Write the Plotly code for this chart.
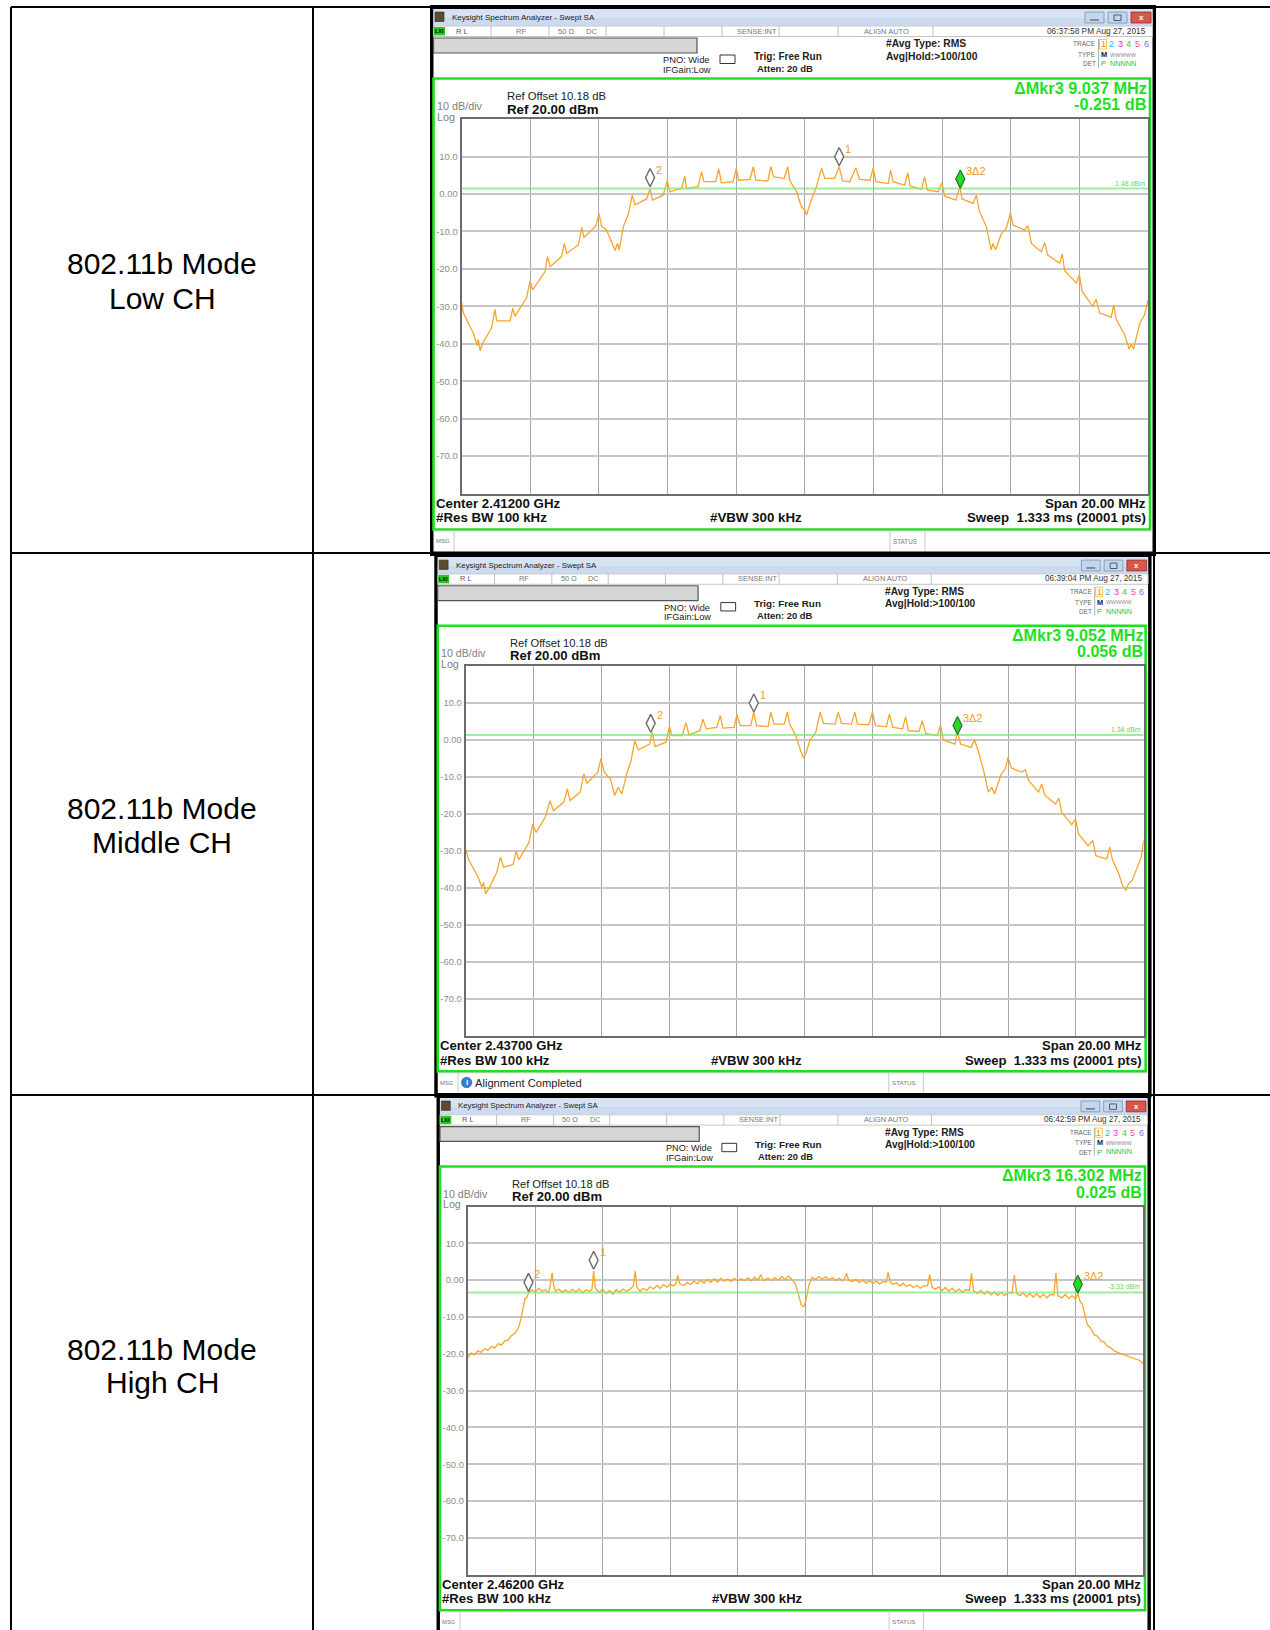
import plotly.graph_objects as go

W, H = 1270, 1630
FONT = "Liberation Sans, Arial, sans-serif"

# ---------------- data ----------------
row_titles = ["802.11b Mode", "802.11b Mode", "802.11b Mode"]
row_channels = ["Low CH", "Middle CH", "High CH"]
center_labels = ["Center 2.41200 GHz", "Center 2.43700 GHz", "Center 2.46200 GHz"]
delta_freq_labels = ["ΔMkr3 9.037 MHz", "ΔMkr3 9.052 MHz", "ΔMkr3 16.302 MHz"]
delta_level_labels = ["-0.251 dB", "0.056 dB", "0.025 dB"]
timestamps = ["06:37:58 PM Aug 27, 2015", "06:39:04 PM Aug 27, 2015", "06:42:59 PM Aug 27, 2015"]
msg_texts = ["", "Alignment Completed", ""]
display_line_dbm = [1.48, 1.34, -3.33]
display_line_labels = ["1.48 dBm", "1.34 dBm", "-3.33 dBm"]
y_tick_vals = [10, 0, -10, -20, -30, -40, -50, -60, -70]
y_tick_text = ["10.0", "0.00", "-10.0", "-20.0", "-30.0", "-40.0", "-50.0", "-60.0", "-70.0"]
x_grid_vals = [-8, -6, -4, -2, 0, 2, 4, 6, 8]
marker_names = ["1", "2", "3Δ2"]

# (frequency offset MHz, level dBm)
low_trace = [
    (-10.0, -29.0), (-9.95, -31.8), (-9.66, -37.2), (-9.55, -40.5), (-9.52, -38.8), (-9.46, -41.8),
    (-9.40, -40.0), (-9.27, -38.0), (-9.13, -35.8), (-9.03, -30.8), (-8.98, -33.9), (-8.59, -33.9),
    (-8.51, -30.5), (-8.45, -32.7), (-8.11, -27.8), (-8.01, -23.2), (-7.93, -25.6), (-7.57, -20.7),
    (-7.50, -16.7), (-7.42, -19.4), (-7.09, -16.7), (-7.01, -13.2), (-6.94, -15.8), (-6.60, -13.6),
    (-6.50, -8.9), (-6.44, -11.6), (-6.09, -8.5), (-6.00, -5.2), (-5.92, -8.7), (-5.78, -9.6),
    (-5.63, -13.2), (-5.53, -15.1), (-5.46, -13.2), (-5.41, -14.9), (-5.29, -8.7), (-5.15, -5.6),
    (-5.03, -0.3), (-4.95, -2.9), (-4.61, -1.3), (-4.51, 1.5), (-4.44, -1.6), (-4.13, -0.3),
    (-4.01, 3.6), (-3.93, 0.6), (-3.59, 1.5), (-3.50, 4.8), (-3.45, 1.5), (-3.11, 2.0),
    (-3.01, 6.0), (-2.94, 3.3), (-2.60, 3.3), (-2.51, 6.7), (-2.43, 3.0), (-2.09, 3.3),
    (-2.00, 6.8), (-1.93, 3.7), (-1.60, 3.9), (-1.50, 7.3), (-1.43, 3.7), (-1.08, 3.5),
    (-0.99, 7.3), (-0.91, 4.6), (-0.60, 4.2), (-0.50, 7.3), (-0.44, 3.7), (-0.24, 0.6),
    (-0.10, -3.4), (0.00, -4.3), (0.05, -5.6), (0.15, -2.5), (0.34, 2.0), (0.49, 7.0),
    (0.58, 4.2), (0.87, 4.2), (1.00, 7.3), (1.10, 3.5), (1.31, 3.3), (1.49, 7.0),
    (1.59, 3.9), (1.90, 3.7), (1.99, 7.0), (2.07, 3.3), (2.43, 2.8), (2.50, 6.4),
    (2.57, 3.3), (2.91, 2.4), (3.00, 5.7), (3.07, 2.1), (3.40, 1.3), (3.49, 4.6),
    (3.57, 1.1), (3.88, 0.6), (4.00, 3.1), (4.07, -0.5), (4.40, -1.6), (4.52, 2.0),
    (4.58, -1.3), (4.90, -2.5), (5.00, -0.3), (5.09, -4.7), (5.29, -8.7), (5.43, -14.9),
    (5.48, -13.2), (5.56, -14.9), (5.73, -10.5), (5.87, -9.2), (5.99, -5.0), (6.07, -8.3),
    (6.40, -9.6), (6.50, -8.5), (6.60, -13.2), (6.89, -15.4), (6.99, -13.0), (7.08, -16.3),
    (7.43, -18.5), (7.50, -16.0), (7.57, -20.4), (7.91, -23.8), (8.00, -21.6), (8.08, -26.0),
    (8.39, -30.0), (8.49, -28.1), (8.59, -31.8), (8.93, -32.9), (9.00, -29.6), (9.07, -33.4),
    (9.32, -37.6), (9.45, -41.4), (9.51, -40.2), (9.58, -41.4), (9.76, -34.5), (9.90, -32.3),
    (10.0, -28.3),
]

mid_trace = [
    (-10.0, -29.5), (-9.90, -32.6), (-9.63, -37.1), (-9.52, -39.8), (-9.47, -38.5), (-9.41, -41.6),
    (-9.29, -39.8), (-9.08, -35.8), (-8.97, -31.7), (-8.88, -34.4), (-8.60, -33.7), (-8.51, -30.1),
    (-8.43, -32.4), (-8.13, -27.7), (-8.02, -22.7), (-7.92, -25.0), (-7.65, -20.9), (-7.51, -16.4),
    (-7.41, -19.1), (-7.10, -16.8), (-7.00, -13.2), (-6.92, -16.4), (-6.62, -14.1), (-6.51, -9.2),
    (-6.42, -11.7), (-6.10, -8.7), (-6.01, -5.1), (-5.91, -8.7), (-5.73, -10.5), (-5.60, -15.0),
    (-5.50, -12.8), (-5.39, -14.6), (-5.25, -9.2), (-5.12, -5.6), (-5.01, -0.2), (-4.91, -2.7),
    (-4.57, -1.1), (-4.50, 2.1), (-4.41, -1.8), (-4.09, -0.6), (-3.99, 3.6), (-3.91, 1.2),
    (-3.61, 1.2), (-3.50, 4.7), (-3.41, 1.4), (-3.09, 2.5), (-3.00, 5.6), (-2.90, 3.0),
    (-2.59, 3.4), (-2.49, 6.6), (-2.41, 3.2), (-2.08, 3.4), (-2.00, 6.8), (-1.90, 3.9),
    (-1.59, 3.9), (-1.50, 7.5), (-1.42, 3.9), (-1.08, 3.6), (-1.00, 7.5), (-0.90, 4.3),
    (-0.60, 4.3), (-0.51, 7.5), (-0.44, 4.3), (-0.26, 1.2), (-0.12, -2.9), (-0.03, -4.9),
    (0.05, -3.3), (0.15, -0.2), (0.33, 2.1), (0.46, 7.5), (0.56, 4.5), (0.90, 4.3),
    (0.99, 7.5), (1.09, 4.5), (1.38, 4.3), (1.48, 7.5), (1.56, 4.3), (1.89, 4.1),
    (2.00, 7.5), (2.09, 3.9), (2.41, 3.6), (2.50, 7.0), (2.60, 3.4), (2.89, 3.0),
    (2.98, 6.3), (3.06, 2.5), (3.37, 2.3), (3.47, 5.2), (3.57, 1.8), (3.91, 1.2),
    (4.01, 3.9), (4.09, 0.0), (4.43, -1.1), (4.51, 2.1), (4.60, -1.1), (4.91, -2.0),
    (5.01, 0.0), (5.12, -2.9), (5.28, -8.3), (5.42, -14.1), (5.52, -12.8), (5.60, -14.6),
    (5.80, -9.2), (5.92, -7.8), (6.00, -4.7), (6.10, -7.6), (6.40, -8.7), (6.51, -8.1),
    (6.61, -11.0), (6.90, -14.1), (6.99, -11.9), (7.09, -15.0), (7.40, -17.3), (7.50, -15.7),
    (7.58, -19.5), (7.88, -22.9), (7.99, -21.4), (8.08, -25.4), (8.36, -28.6), (8.50, -27.2),
    (8.59, -31.3), (8.91, -32.2), (9.00, -29.0), (9.08, -32.4), (9.25, -35.8), (9.38, -39.4),
    (9.47, -40.7), (9.55, -38.9), (9.66, -38.0), (9.82, -34.0), (9.93, -31.7), (10.0, -27.2),
]

high_trace = [
    (-10.0, -21.0), (-9.9, -19.8), (-9.8, -20.3), (-9.7, -19.2), (-9.6, -19.6), (-9.5, -18.6),
    (-9.4, -19.0), (-9.3, -18.0), (-9.2, -18.4), (-9.1, -17.3), (-9.0, -17.6), (-8.9, -16.5),
    (-8.8, -16.2), (-8.7, -15.0), (-8.6, -14.4), (-8.5, -13.0), (-8.45, -11.5), (-8.4, -9.0),
    (-8.35, -6.5), (-8.3, -5.0), (-8.25, -4.8), (-8.2, -3.5), (-8.1, -2.6), (-8.0, -3.2),
    (-7.9, -2.2), (-7.8, -3.0), (-7.7, -2.6), (-7.6, -3.4), (-7.55, -1.0), (-7.5, 2.0),
    (-7.45, -1.5), (-7.4, -3.0), (-7.3, -2.4), (-7.2, -3.3), (-7.1, -2.6), (-7.0, -3.4),
    (-6.9, -2.5), (-6.8, -3.2), (-6.7, -2.4), (-6.6, -3.5), (-6.5, -2.6), (-6.4, -3.1),
    (-6.32, -2.5), (-6.27, 2.5), (-6.22, -2.2), (-6.1, -3.3), (-6.0, -2.5), (-5.9, -3.6),
    (-5.8, -2.8), (-5.7, -3.8), (-5.6, -2.6), (-5.5, -3.3), (-5.4, -2.4), (-5.3, -3.0),
    (-5.2, -2.5), (-5.09, -1.5), (-5.04, 2.5), (-4.99, -1.8), (-4.9, -3.0), (-4.8, -2.2),
    (-4.7, -2.8), (-4.6, -1.8), (-4.5, -2.4), (-4.4, -1.5), (-4.3, -2.2), (-4.2, -1.2),
    (-4.1, -1.9), (-4.0, -1.0), (-3.9, -1.6), (-3.83, -0.8), (-3.78, 1.3), (-3.72, -0.9),
    (-3.6, -1.5), (-3.5, -0.6), (-3.4, -1.2), (-3.3, -0.3), (-3.2, -1.0), (-3.1, 0.0),
    (-3.0, -0.8), (-2.9, 0.2), (-2.8, -0.6), (-2.7, 0.4), (-2.6, -0.5), (-2.5, 0.5),
    (-2.4, -0.3), (-2.3, 0.3), (-2.2, -0.4), (-2.1, 0.5), (-2.0, -0.2), (-1.9, 0.4),
    (-1.8, -0.1), (-1.7, 0.6), (-1.6, -0.2), (-1.5, 0.8), (-1.4, 0.0), (-1.32, 1.5),
    (-1.25, -0.2), (-1.1, 0.6), (-1.0, -0.1), (-0.9, 0.7), (-0.8, 0.0), (-0.7, 1.0),
    (-0.6, 0.2), (-0.5, 1.1), (-0.4, 0.2), (-0.3, -1.0), (-0.2, -4.0), (-0.12, -6.8),
    (-0.05, -7.2), (0.02, -5.5), (0.1, -1.5), (0.2, 0.8), (0.3, 0.2), (0.4, 1.0),
    (0.5, 0.3), (0.6, 0.9), (0.7, 0.1), (0.8, 0.7), (0.9, -0.1), (1.0, 0.5),
    (1.1, -0.2), (1.17, 0.5), (1.22, 1.9), (1.28, 0.0), (1.4, -0.4), (1.5, 0.2),
    (1.6, -0.6), (1.7, 0.0), (1.8, -0.8), (1.9, -0.1), (2.0, -0.9), (2.1, -0.3),
    (2.2, -1.0), (2.3, -0.4), (2.4, -0.5), (2.45, 2.1), (2.52, -0.6), (2.6, -1.2),
    (2.7, -0.7), (2.8, -1.6), (2.9, -0.9), (3.0, -1.8), (3.1, -1.2), (3.2, -2.0),
    (3.3, -1.4), (3.4, -2.2), (3.5, -1.6), (3.62, -1.5), (3.68, 1.6), (3.75, -1.9),
    (3.85, -2.5), (3.95, -1.8), (4.05, -2.8), (4.15, -2.0), (4.25, -3.0), (4.35, -2.2),
    (4.45, -3.2), (4.55, -2.4), (4.65, -3.3), (4.75, -2.6), (4.86, -2.8), (4.92, 1.9),
    (4.98, -2.9), (5.1, -3.6), (5.2, -2.8), (5.3, -3.8), (5.4, -3.0), (5.5, -4.0),
    (5.6, -3.2), (5.7, -4.1), (5.8, -3.3), (5.9, -4.2), (6.0, -3.4), (6.12, -3.5),
    (6.19, 1.4), (6.26, -3.6), (6.35, -4.2), (6.45, -3.4), (6.55, -4.5), (6.65, -3.6),
    (6.75, -4.6), (6.85, -3.7), (6.95, -4.7), (7.05, -3.8), (7.15, -4.8), (7.25, -3.9),
    (7.36, -4.0), (7.42, 1.9), (7.48, -4.2), (7.6, -4.8), (7.7, -3.9), (7.8, -5.0),
    (7.9, -4.2), (8.0, -5.2), (8.07, -3.7), (8.13, -5.6), (8.2, -6.5), (8.27, -9.5),
    (8.35, -12.0), (8.45, -13.0), (8.55, -14.8), (8.65, -15.2), (8.75, -16.5), (8.85, -16.8),
    (8.95, -18.0), (9.05, -18.4), (9.15, -19.2), (9.3, -19.8), (9.45, -20.3), (9.6, -20.9),
    (9.75, -21.3), (9.9, -21.8), (10.0, -22.6),
]

# markers 1, 2, 3 : (frequency offset MHz, diamond centre level dB)
low_markers = [(1.00, 10.0), (-4.51, 4.4), (4.53, 4.0)]
mid_markers = [(-1.50, 10.0), (-4.54, 4.5), (4.51, 3.9)]
high_markers = [(-6.27, 5.4), (-8.20, -0.6), (8.07, -1.1)]

traces_data = [low_trace, mid_trace, high_trace]
markers_data = [low_markers, mid_markers, high_markers]

# ---------------- geometry helpers ----------------
SS = [dict(ax=461.7, ay=119.2, s=1.0),
      dict(ax=465.6, ay=666.0, s=0.988),
      dict(ax=467.7, ay=1206.5, s=0.984)]


def T(i, x, y):
    d = SS[i]
    return d['ax'] + (x - 461.7) * d['s'], d['ay'] + (y - 119.2) * d['s']


shapes = []
annotations = []


def rect_px(x0, y0, x1, y1, fill=None, lc=None, lw=0):
    shapes.append(dict(type='rect', xref='paper', yref='paper', x0=x0 / W, x1=x1 / W,
                       y0=1 - y0 / H, y1=1 - y1 / H, layer='below',
                       fillcolor=fill if fill else 'rgba(0,0,0,0)',
                       line=dict(color=lc if lc else 'rgba(0,0,0,0)', width=lw)))


def circle_px(x0, y0, x1, y1, fill, lc=None, lw=0):
    shapes.append(dict(type='circle', xref='paper', yref='paper', x0=x0 / W, x1=x1 / W,
                       y0=1 - y0 / H, y1=1 - y1 / H, layer='below', fillcolor=fill,
                       line=dict(color=lc if lc else 'rgba(0,0,0,0)', width=lw)))


def line_px(x0, y0, x1, y1, color, width):
    shapes.append(dict(type='line', xref='paper', yref='paper', x0=x0 / W, x1=x1 / W,
                       y0=1 - y0 / H, y1=1 - y1 / H, layer='below',
                       line=dict(color=color, width=width)))


def text_px(x, y, t, size, color, xa='left', ya='middle', family=FONT):
    annotations.append(dict(xref='paper', yref='paper', x=x / W, y=1 - y / H, text=t,
                            showarrow=False, xanchor=xa, yanchor=ya, borderpad=0,
                            font=dict(size=size, color=color, family=family)))


# ---------------- table ----------------
for (x0, y0, x1, y1) in [(11, 7, 1270, 7), (11, 553, 1270, 553), (11, 1095, 1270, 1095),
                         (11, 7, 11, 1630), (313, 7, 313, 1630), (1154, 7, 1154, 1630)]:
    line_px(x0, y0, x1, y1, '#000000', 2)

row_text_y = [(264, 298), (808, 842), (1349, 1382)]
for k in range(3):
    text_px(162, row_text_y[k][0], row_titles[k], 30, '#000000', xa='center')
    text_px(162, row_text_y[k][1], row_channels[k], 30, '#000000', xa='center')

GREEN = '#1fe01f'
ORANGE = '#f7a52b'


def draw_screen(i):
    s = SS[i]['s']

    def R(x0, y0, x1, y1, fill=None, lc=None, lw=0):
        X0, Y0 = T(i, x0, y0)
        X1, Y1 = T(i, x1, y1)
        rect_px(X0, Y0, X1, Y1, fill, lc, lw * s)

    def C(x0, y0, x1, y1, fill, lc=None, lw=0):
        X0, Y0 = T(i, x0, y0)
        X1, Y1 = T(i, x1, y1)
        circle_px(X0, Y0, X1, Y1, fill, lc, lw * s)

    def L(x0, y0, x1, y1, color, width):
        X0, Y0 = T(i, x0, y0)
        X1, Y1 = T(i, x1, y1)
        line_px(X0, Y0, X1, Y1, color, width * s)

    def TX(x, y, t, size, color, xa='left', ya='middle'):
        X, Y = T(i, x, y)
        text_px(X, Y, t, size * s, color, xa, ya)

    # outer frame
    R(430, 5, 1156, 556, fill='#000000')
    R(433.5, 9, 1152.5, 551.5, fill='#ffffff')
    # title bar
    R(433.5, 9, 1152.5, 25.5, fill='#d6e3f3')
    R(433.5, 18, 1152.5, 25.5, fill='#cbdaee')
    R(435, 12, 444, 21.5, fill='#5d4b2c', lc='#2a2a2a', lw=0.6)
    TX(451, 17, "Keysight Spectrum Analyzer - Swept SA", 8, '#1b1b1b')
    R(1085, 12, 1104, 23, fill='#c3d6ee', lc='#7b90aa', lw=0.8)
    R(1108, 12, 1127, 23, fill='#c3d6ee', lc='#7b90aa', lw=0.8)
    R(1131, 12, 1151, 23, fill='#d8574b', lc='#8b2c2a', lw=0.8)
    L(1090, 20, 1099, 20, '#4a5a70', 1.2)
    R(1114, 15, 1121, 20.5, lc='#4a5a70', lw=1)
    TX(1141, 17.5, "<b>x</b>", 8, '#ffffff', xa='center')
    # status row
    R(433.5, 26, 1152.5, 36.5, fill='#ffffff', lc='#b8b8b8', lw=0.8)
    for sx in [491, 549, 606, 664, 722, 779, 838, 933]:
        L(sx, 26, sx, 36.5, '#b0b0b0', 0.8)
    R(434, 27, 445, 35.5, fill='#22cc22')
    TX(439.5, 31.2, "<b>LXI</b>", 5.5, '#000000', xa='center')
    TX(455, 31, "R L", 7.5, '#555555')
    TX(515, 31, "RF", 7.5, '#777777')
    TX(557, 31, "50 Ω", 7.5, '#777777')
    TX(585, 31, "DC", 7.5, '#777777')
    TX(736, 31, "SENSE:INT", 7.5, '#777777')
    TX(863, 31, "ALIGN AUTO", 7.5, '#777777')
    TX(1147, 31, timestamps[i], 8.3, '#333333', xa='right')
    # gray bar
    R(433.5, 38, 697, 53, fill='#d6d6d6', lc='#555555', lw=1.2)
    # settings text
    TX(662, 60, "PNO: Wide", 9.3, '#222222')
    TX(662, 70, "IFGain:Low", 9.3, '#222222')
    R(720, 55, 735, 63.5, fill='#ffffff', lc='#333333', lw=1)
    TX(753, 56, "<b>Trig: Free Run</b>", 10, '#222222')
    TX(756, 68.5, "<b>Atten: 20 dB</b>", 9.5, '#222222')
    TX(885, 44, "<b>#Avg Type: RMS</b>", 10.3, '#222222')
    TX(885, 56, "<b>Avg|Hold:&gt;100/100</b>", 10.3, '#222222')
    # trace box
    TX(1097, 44, "TRACE", 6.5, '#666666', xa='right')
    TX(1097, 54.5, "TYPE", 6.5, '#666666', xa='right')
    TX(1097, 64, "DET", 6.5, '#666666', xa='right')
    L(1098.5, 39, 1098.5, 68, '#999999', 0.8)
    R(1099.5, 39.5, 1106.5, 49, lc='#f5c000', lw=0.8)
    digit_colors = ['#f08a00', '#19b8f0', '#ee22ee', '#33cc33', '#ff4f80', '#7a6cff']
    for k in range(6):
        TX(1103 + 8.6 * k, 44.2, str(k + 1), 9, digit_colors[k], xa='center')
    TX(1100, 54.5, "<b>M</b>", 7.5, '#222222')
    TX(1109, 54.5, "WWWWW", 5.5, '#8a8a8a')
    TX(1100, 64, "P", 7.5, '#33bb33')
    TX(1109, 64, "NNNNN", 7.3, '#33bb33')
    # green frame
    R(433.5, 78.5, 1150, 529.5, lc=GREEN, lw=2.6)
    TX(436, 106.5, "10 dB/div", 10.8, '#808080')
    TX(436, 117, "Log", 10.8, '#808080')
    TX(506, 96, "Ref Offset 10.18 dB", 11.3, '#222222')
    TX(506, 109, "<b>Ref 20.00 dBm</b>", 13.3, '#111111')
    TX(1148, 87.5, "<b>" + delta_freq_labels[i] + "</b>", 16.3, GREEN, xa='right')
    TX(1148, 104, "<b>" + delta_level_labels[i] + "</b>", 16.3, GREEN, xa='right')
    TX(435, 503, "<b>" + center_labels[i] + "</b>", 13.3, '#111111')
    TX(435, 518, "<b>#Res BW 100 kHz</b>", 13.3, '#111111')
    TX(709, 518, "<b>#VBW 300 kHz</b>", 13.3, '#111111')
    TX(1147, 503, "<b>Span 20.00 MHz</b>", 13.3, '#111111', xa='right')
    TX(1147, 518, "<b>Sweep  1.333 ms (20001 pts)</b>", 13.3, '#111111', xa='right')
    # message bar
    L(433.5, 531, 1152.5, 531, '#cccccc', 0.8)
    L(454, 531, 454, 551, '#bbbbbb', 0.8)
    L(890, 531, 890, 551, '#bbbbbb', 0.8)
    L(925, 531, 925, 551, '#bbbbbb', 0.8)
    TX(434.5, 541, "MSG", 6, '#777777')
    TX(892, 541, "STATUS", 6.3, '#777777')
    if msg_texts[i]:
        C(457.5, 535.5, 468, 546, '#3b7ddd', lc='#1c4fa0', lw=0.6)
        TX(462.7, 540.8, "<b>i</b>", 8, '#ffffff', xa='center')
        TX(470, 541, msg_texts[i], 11.3, '#222222')


for i in range(3):
    draw_screen(i)

# ---------------- plots ----------------
fig = go.Figure()
layout_axes = {}
for i in range(3):
    s = SS[i]['s']
    X0, Y0 = T(i, 461.7, 119.2)
    X1, Y1 = T(i, 1148.0, 493.5)
    xn = 'x' if i == 0 else f'x{i + 1}'
    yn = 'y' if i == 0 else f'y{i + 1}'
    xk = 'xaxis' if i == 0 else f'xaxis{i + 1}'
    yk = 'yaxis' if i == 0 else f'yaxis{i + 1}'
    layout_axes[xk] = dict(domain=[X0 / W, X1 / W], range=[-10, 10], anchor=yn,
                           tickvals=x_grid_vals, showticklabels=False, ticks='',
                           showgrid=True, gridcolor='#a6a6a6', gridwidth=1.3,
                           zeroline=False, showline=True, mirror=True,
                           linecolor='#6c6c6c', linewidth=2, fixedrange=True)
    layout_axes[yk] = dict(domain=[1 - Y1 / H, 1 - Y0 / H], range=[-80, 20], anchor=xn,
                           tickvals=y_tick_vals, ticktext=y_tick_text, ticks='',
                           tickfont=dict(size=9.5 * s, color='#8e8e8e', family=FONT),
                           showgrid=True, gridcolor='#c6c6c6', gridwidth=2,
                           zeroline=False, showline=True, mirror=True,
                           linecolor='#6c6c6c', linewidth=2, fixedrange=True)

    tr = traces_data[i]
    fig.add_trace(go.Scatter(x=[p[0] for p in tr], y=[p[1] for p in tr], mode='lines',
                             line=dict(color=ORANGE, width=1.3), xaxis=xn, yaxis=yn,
                             showlegend=False, hoverinfo='skip'))
    dl = display_line_dbm[i]
    fig.add_trace(go.Scatter(x=[-10, 10], y=[dl, dl], mode='lines',
                             line=dict(color='#7fe87f', width=2), opacity=0.75,
                             xaxis=xn, yaxis=yn, showlegend=False, hoverinfo='skip'))
    annotations.append(dict(xref=xn, yref=yn, x=10, y=dl, text=display_line_labels[i],
                            showarrow=False, xanchor='right', yanchor='bottom',
                            xshift=-2, yshift=1, borderpad=0,
                            font=dict(size=7 * s, color='#5fd35f', family=FONT)))
    mk = markers_data[i]
    fig.add_trace(go.Scatter(x=[mk[0][0], mk[1][0]], y=[mk[0][1], mk[1][1]], mode='markers',
                             marker=dict(symbol='diamond-tall', size=13 * s, color='#ffffff',
                                         line=dict(color='#6a6a6a', width=1.4)),
                             xaxis=xn, yaxis=yn, showlegend=False, hoverinfo='skip'))
    fig.add_trace(go.Scatter(x=[mk[2][0]], y=[mk[2][1]], mode='markers',
                             marker=dict(symbol='diamond-tall', size=13 * s, color='#22dd22',
                                         line=dict(color='#2d6e2d', width=1.2)),
                             xaxis=xn, yaxis=yn, showlegend=False, hoverinfo='skip'))
    for k in range(3):
        annotations.append(dict(xref=xn, yref=yn, x=mk[k][0], y=mk[k][1], text=marker_names[k],
                                showarrow=False, xanchor='left', yanchor='middle',
                                xshift=5 * s, yshift=8 * s, borderpad=0,
                                font=dict(size=11 * s, color='#f59a1a', family=FONT)))

fig.update_layout(width=W, height=H, margin=dict(l=0, r=0, t=0, b=0),
                  paper_bgcolor='#ffffff', plot_bgcolor='#ffffff',
                  shapes=shapes, annotations=annotations, showlegend=False,
                  font=dict(family=FONT), **layout_axes)

fig.write_html("out.html", config={'displayModeBar': False},
               post_script="document.body.style.margin='0px';document.body.style.padding='0px';"
                           "document.body.style.overflow='hidden';")
